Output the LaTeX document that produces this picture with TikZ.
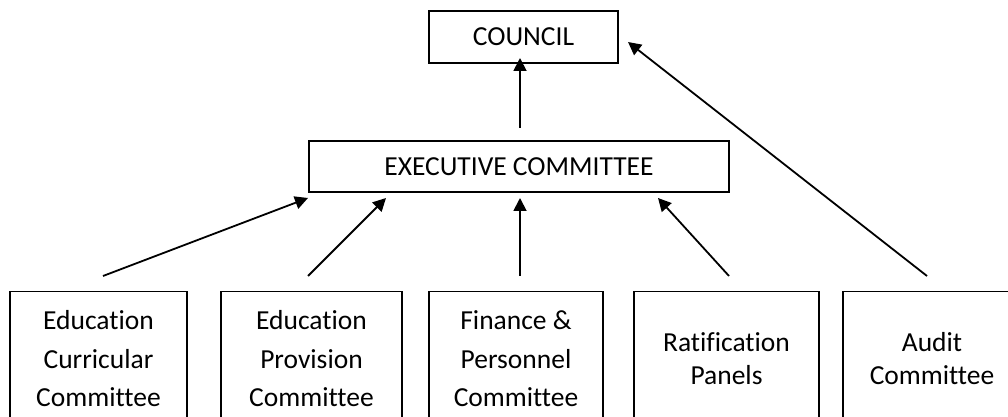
\documentclass[tikz,border=0pt]{standalone}
\usepackage{fontspec}
\setmainfont{Carlito}[Ligatures={NoCommon}]
\usetikzlibrary{arrows.meta}
\begin{document}
\begin{tikzpicture}[x=1pt,y=1pt,
  box/.style={draw,line width=1.4pt,inner sep=0pt,align=center,
    font=\fontsize{27.5}{38.5}\selectfont},
  panel/.style={box,minimum height=134pt,anchor=north},
  twoline/.style={font=\fontsize{27.5}{33}\selectfont},
  link/.style={line width=1.8pt,-{Triangle[length=13pt,width=13pt]}}]
  \path[use as bounding box,clip] (0,0) rectangle (1008,417);
  \node[box,minimum width=189pt,minimum height=52pt] (council) at (523.5,380) {COUNCIL};
  \node[box,minimum width=420pt,minimum height=51pt] (exec) at (519,250.5) {EXECUTIVE COMMITTEE};
  \node[panel,minimum width=177pt] (curric) at (98.5,126) {Education\\Curricular\\Committee};
  \node[panel,minimum width=181pt] (provision) at (311.5,126) {Education\\Provision\\Committee};
  \node[panel,minimum width=174pt] (finance) at (516,126) {Finance \&\\Personnel\\Committee};
  \node[panel,twoline,minimum width=185pt] (ratify) at (726.5,126) {Ratification\\Panels};
  \node[panel,twoline,minimum width=178pt] (audit) at (932,126) {Audit\\Committee};
  % free ends just above the lower boxes
  \coordinate (s1) at (103,141);
  \coordinate (s2) at (308,141);
  \coordinate (s3) at (520,141);
  \coordinate (s4) at (729,141);
  \coordinate (s5) at (927,141);
  \coordinate (s6) at (520,289);
  % tips under the executive box and beside the council
  \coordinate (t1) at (308,219);
  \coordinate (t2) at (386,219);
  \coordinate (t3) at (520,219);
  \coordinate (t4) at (658,219);
  \coordinate (t5) at (628,375);
  \coordinate (t6) at (520,359);
  \draw[link] (s1) -- (t1);
  \draw[link] (s2) -- (t2);
  \draw[link] (s3) -- (t3);
  \draw[link] (s4) -- (t4);
  \draw[link] (s5) -- (t5);
  \draw[link] (s6) -- (t6);
\end{tikzpicture}
\end{document}
